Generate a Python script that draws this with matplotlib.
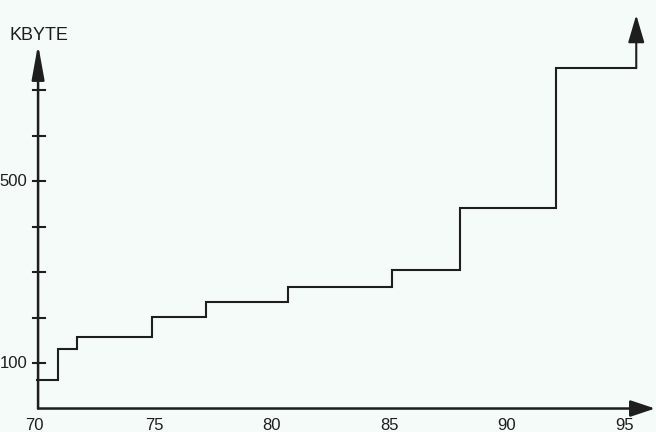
import matplotlib.pyplot as plt
import numpy as np

plt.rcParams['font.family'] = ['Liberation Sans', 'DejaVu Sans']

# step edges (year) and memory size in KByte for each step
years = [70, 70.9, 71.7, 74.9, 77.2, 80.7, 85.1, 88.0, 92.1, 95.5]
kbyte = [63, 131, 157, 201, 234, 267, 304, 441, 748]
y_ticks = [100, 200, 300, 400, 500, 600, 700]
y_labels = {100: '100', 500: '500'}
x_ticks = [70, 75, 80, 85, 90, 95]

bg = '#f5fbf9'
ink = '#1e1e1e'


def arrow(tip, base, hl, hw, lw):
    ax.annotate('', xy=tip, xytext=base,
                arrowprops=dict(arrowstyle='-|>,head_length=%s,head_width=%s' % (hl, hw),
                                color=ink, lw=lw, mutation_scale=10,
                                shrinkA=0, shrinkB=0))


fig = plt.figure(figsize=(6.56, 4.32), dpi=100, facecolor=bg)
ax = fig.add_axes([0, 0, 1, 1], facecolor=bg)
ax.set_xlim(68.43, 96.34)
ax.set_ylim(-51.6, 897.8)
ax.axis('off')

# step curve
xs = np.repeat(years, 2)[1:-1]
ys = np.repeat(kbyte, 2)
ax.plot(xs, ys, color=ink, lw=1.5, solid_joinstyle='miter')
# open-ended growth arrow at the end
arrow((years[-1], 865), (years[-1], kbyte[-1]), 1.7, 0.5, 1.5)

# axes with arrows
arrow((70.05, 800), (70.05, 0), 2.1, 0.38, 1.8)
arrow((96.3, 0), (70.05, 0), 1.5, 0.5, 1.8)

for t in y_ticks:
    ax.plot([69.85, 70.35], [t, t], color=ink, lw=1.5)
    if t in y_labels:
        ax.text(69.6, t, y_labels[t], ha='right', va='center', fontsize=12, color=ink)

for t in x_ticks:
    ax.text(t - (0.12 if t == 70 else 0), -37, str(t), ha='center', va='center',
            fontsize=12, color=ink)

ax.text(70.1, 819, 'KBYTE', ha='center', va='center', fontsize=13, color=ink)

fig.savefig('out.png', dpi=100, facecolor=bg)
